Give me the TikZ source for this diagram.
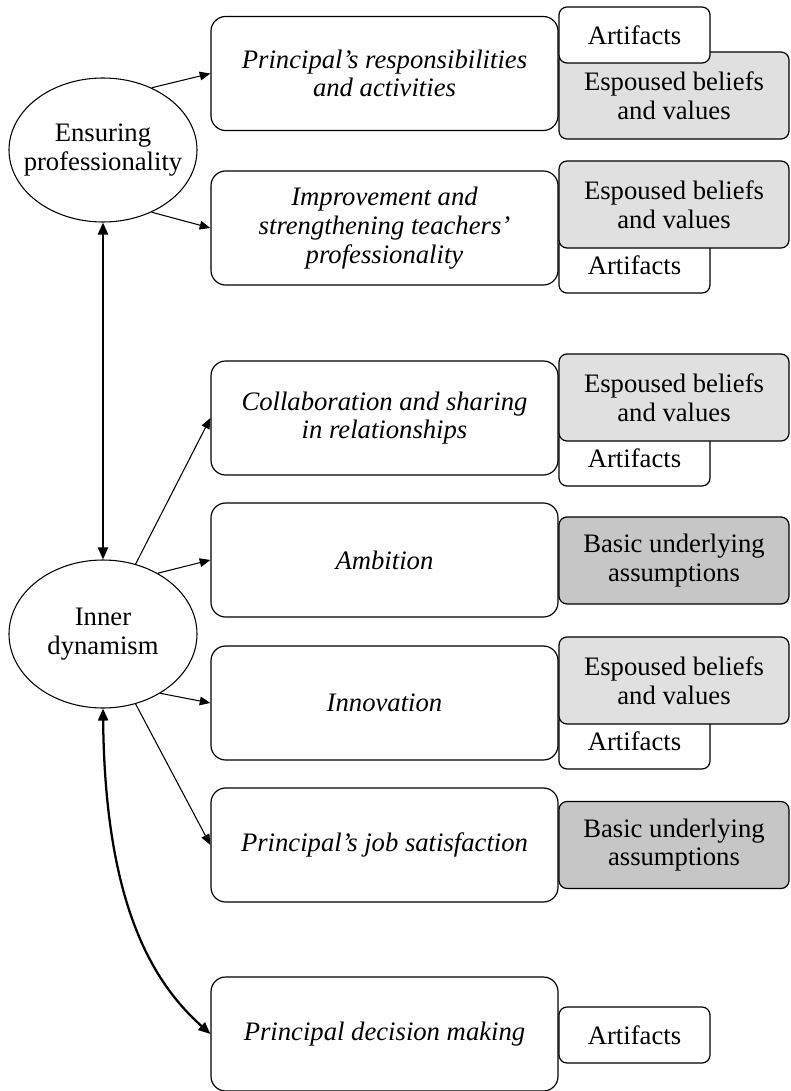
\documentclass[tikz,border=0pt]{standalone}
\usepackage{fontspec}
\setmainfont{Liberation Serif}
\usetikzlibrary{arrows.meta,shapes.geometric}
\definecolor{lightgr}{RGB}{224,224,224}
\definecolor{darkgr}{RGB}{198,198,198}
\begin{document}
\begin{tikzpicture}[x=0.75pt,y=-0.75pt,
  txt/.style={font=\fontsize{20}{21.5}\selectfont, align=center},
  mainbox/.style={draw, line width=0.9pt, rounded corners=11pt, minimum width=260.25pt,
    minimum height=85.5pt, inner sep=0pt, align=center, font=\fontsize{20}{21.5}\selectfont\itshape},
  oval/.style={txt, draw, ellipse, line width=0.8pt, inner ysep=0pt, inner xsep=-10pt, minimum width=141pt},
  artbox/.style={txt, draw, fill=white, line width=0.9pt, rounded corners=6pt,
    minimum width=113.25pt, minimum height=42pt, inner sep=0pt},
  espbox/.style={txt, draw, fill=lightgr, line width=0.9pt, rounded corners=6pt,
    minimum width=172.5pt, minimum height=65.25pt, inner sep=0pt},
  basbox/.style={txt, draw, fill=darkgr, line width=0.9pt, rounded corners=6pt,
    minimum width=172.5pt, minimum height=65.25pt, inner sep=0pt},
  thin/.style={line width=0.8pt, -{Triangle[length=8pt,width=6.5pt]}},
  thick/.style={line width=1.7pt, {Triangle[length=9pt,width=7.5pt]}-{Triangle[length=9pt,width=7.5pt]}}
]
\useasboundingbox (0,0) rectangle (790,1091);

% ellipses
\node[oval, minimum height=108pt] (ens) at (103,150) {Ensuring\\professionality};
\node[oval, minimum height=111pt] (inn) at (103,634) {Inner\\dynamism};

% main boxes
\node[mainbox] (b1) at (384.5,73.5) {Principal’s responsibilities\\and activities};
\node[mainbox] (b2) at (384.5,228) {Improvement and\\strengthening teachers’\\professionality};
\node[mainbox] (b3) at (384.5,418) {Collaboration and sharing\\in relationships};
\node[mainbox] (b4) at (384.5,560) {Ambition};
\node[mainbox] (b5) at (384.5,703) {Innovation};
\node[mainbox] (b6) at (384.5,845) {Principal’s job satisfaction};
\node[mainbox] (b7) at (384.5,1034) {Principal decision making};

% right boxes
\node[espbox] (e1) at (674,95.5) {Espoused beliefs\\and values};
\node[artbox] (a1) at (634.5,35) {Artifacts};

\node[artbox] (a2) at (634.5,265) {Artifacts};
\node[espbox] (e2) at (674,204.5) {Espoused beliefs\\and values};

\node[artbox] (a3) at (634.5,458) {Artifacts};
\node[espbox] (e3) at (674,397.5) {Espoused beliefs\\and values};

\node[basbox] (s4) at (674,560.5) {Basic underlying\\assumptions};

\node[artbox] (a5) at (634.5,741) {Artifacts};
\node[espbox] (e5) at (674,680.5) {Espoused beliefs\\and values};

\node[basbox] (s6) at (674,845) {Basic underlying\\assumptions};

\node[artbox] (a7) at (634.5,1035) {Artifacts};

% connectors
\draw[thin] (ens.52) -- (b1.west);
\draw[thin] (ens.-52) -- (b2.west);
\draw[thick] (ens.south) -- (inn.north);
\draw[thin] (inn.65) -- (b3.west);
\draw[thin] (inn.48) -- (b4.west);
\draw[thin] (inn.-46) -- (b5.west);
\draw[thin] (inn.-65) -- (b6.west);
\draw[thick] (inn.south) .. controls (105,900) and (150,980) .. (b7.west);
\end{tikzpicture}
\end{document}
